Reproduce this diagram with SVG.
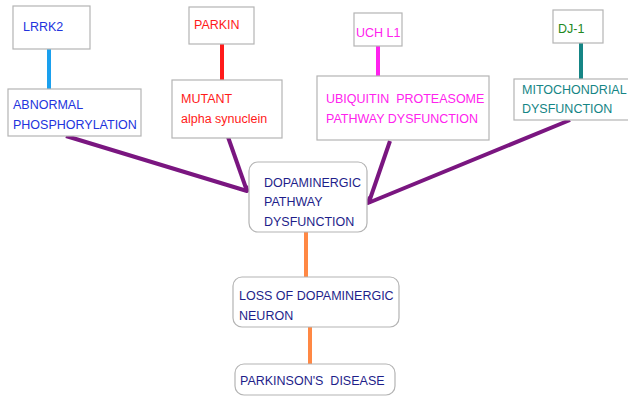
<svg xmlns="http://www.w3.org/2000/svg" width="628" height="396" viewBox="0 0 628 396">
<style>
.box{fill:#fff;stroke:#b4b4b4;stroke-width:1.2}
text{font-family:"Liberation Sans",Arial,sans-serif;font-size:12.5px}
.blue{fill:#2233dd}.red{fill:#ff1a1a}.mag{fill:#ff22ee}.grn{fill:#228822}.teal{fill:#158585}.navy{fill:#1e1e8a}
.c{fill:none;stroke-width:4;stroke-linecap:butt}
.p{stroke:#7a1680;stroke-width:4;fill:none;stroke-linejoin:round}
</style>
<rect width="628" height="396" fill="#fff"/>
<g id="connectors">
<line class="c" x1="49" y1="48" x2="49" y2="90" stroke="#1aa0ee"/>
<line class="c" x1="222" y1="43" x2="222" y2="80" stroke="#ff1a1a"/>
<line class="c" x1="378" y1="46" x2="378" y2="76" stroke="#ff22ee"/>
<line class="c" x1="581" y1="42" x2="581" y2="80" stroke="#158585"/>
<line class="c" x1="306" y1="232" x2="306" y2="277" stroke="#ff8844"/>
<line class="c" x1="310" y1="327" x2="310" y2="364" stroke="#ff8844"/>
<polyline class="p" points="66,136 247,191 246,186"/>
<line class="p" x1="228" y1="137" x2="247" y2="191"/>
<line class="p" x1="390" y1="141" x2="369" y2="202"/>
<polyline class="p" points="570,120 368,203 370,197"/>
</g>
<g id="lrrk2"><rect class="box" x="13" y="6" width="77" height="43"/><text class="blue" x="23" y="31">LRRK2</text></g>
<g id="abnormal"><rect class="box" x="8" y="89" width="133" height="47"/><text class="blue" x="13" y="109">ABNORMAL</text><text class="blue" x="13" y="129">PHOSPHORYLATION</text></g>
<g id="parkin"><rect class="box" x="189" y="7" width="65" height="37"/><text class="red" x="194" y="29">PARKIN</text></g>
<g id="mutant"><rect class="box" x="172" y="80" width="110" height="58"/><text class="red" x="181" y="103">MUTANT</text><text class="red" x="181" y="123">alpha synuclein</text></g>
<g id="uchl1"><rect class="box" x="354" y="13" width="48" height="33"/><text class="mag" x="356" y="37">UCH L1</text></g>
<g id="ubiquitin"><rect class="box" x="317" y="76" width="172" height="64"/><text class="mag" x="326" y="103" xml:space="preserve">UBIQUITIN  PROTEASOME</text><text class="mag" x="326" y="123">PATHWAY DYSFUNCTION</text></g>
<g id="dj1"><rect class="box" x="553" y="10" width="50" height="33"/><text class="grn" x="558" y="33">DJ-1</text></g>
<g id="mito"><rect class="box" x="514" y="79" width="118" height="41"/><text class="teal" x="522" y="94">MITOCHONDRIAL</text><text class="teal" x="522" y="113">DYSFUNCTION</text></g>
<g id="dopaminergic"><rect class="box" x="249" y="162" width="118" height="70" rx="9"/><text class="navy" x="264" y="187">DOPAMINERGIC</text><text class="navy" x="264" y="206">PATHWAY</text><text class="navy" x="264" y="226">DYSFUNCTION</text></g>
<g id="loss"><rect class="box" x="233" y="277" width="166" height="50" rx="9"/><text class="navy" x="239" y="300">LOSS OF DOPAMINERGIC</text><text class="navy" x="239" y="320">NEURON</text></g>
<g id="parkinsons"><rect class="box" x="235" y="364" width="160" height="31" rx="9"/><text class="navy" x="240" y="385" xml:space="preserve">PARKINSON'S  DISEASE</text></g>
</svg>
